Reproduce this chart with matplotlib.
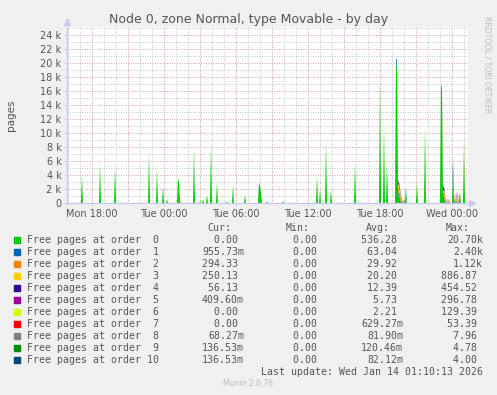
import numpy as np
import pandas as pd
import matplotlib
matplotlib.use("Agg")
import matplotlib.pyplot as plt

# order 0 spikes (time -> pages)
order0_times = [
    "2026-01-12 17:10", "2026-01-12 18:40", "2026-01-12 19:55", "2026-01-12 22:45",
    "2026-01-12 23:25", "2026-01-12 23:55", "2026-01-13 00:15", "2026-01-13 01:10",
    "2026-01-13 01:15", "2026-01-13 01:20", "2026-01-13 02:30", "2026-01-13 03:00",
    "2026-01-13 03:15", "2026-01-13 03:35", "2026-01-13 03:55", "2026-01-13 04:25",
    "2026-01-13 05:15", "2026-01-13 05:45", "2026-01-13 06:45", "2026-01-13 07:55",
    "2026-01-13 08:00", "2026-01-13 08:05", "2026-01-13 08:35", "2026-01-13 09:55",
    "2026-01-13 12:45", "2026-01-13 13:00", "2026-01-13 13:30", "2026-01-13 13:55",
    "2026-01-13 15:55", "2026-01-13 18:00", "2026-01-13 18:20", "2026-01-13 18:35",
    "2026-01-13 19:20", "2026-01-13 19:25", "2026-01-13 20:10", "2026-01-13 21:05",
    "2026-01-13 21:45", "2026-01-13 23:05", "2026-01-13 23:10", "2026-01-14 00:05",
    "2026-01-14 00:40", "2026-01-14 01:00",
]
order0_vals = [
    4000, 5700, 5200, 7200, 5000, 2400, 600, 3600, 3000, 300, 7900, 300,
    600, 1200, 8600, 2900, 300, 2600, 1200, 2900, 2500, 1500, 300, 300,
    4000, 1900, 8800, 1900, 5900, 17900, 10900, 5800, 20700, 19000, 1800, 2900,
    10800, 17000, 16000, 4200, 1500, 8000,
]

# higher orders, only where they show up
mix_times = [
    "2026-01-13 19:25", "2026-01-13 19:30", "2026-01-13 19:35", "2026-01-13 19:40",
    "2026-01-13 19:45", "2026-01-13 19:50", "2026-01-13 20:00", "2026-01-13 20:10",
    "2026-01-13 23:10", "2026-01-13 23:15", "2026-01-13 23:20", "2026-01-13 23:25",
    "2026-01-13 23:35", "2026-01-13 23:45", "2026-01-14 00:05", "2026-01-14 00:15",
    "2026-01-14 00:25", "2026-01-14 00:35", "2026-01-14 01:00", "2026-01-14 01:10",
]
mix0 = [0, 1500, 700, 300, 0, 0, 0, 0, 0, 700, 400, 200, 100, 0, 0, 300, 100, 200, 0, 0]
order1 = [1500, 500, 400, 300, 200, 100, 400, 600, 500, 300, 400, 200, 150, 300, 2400, 300, 200, 150, 0, 0.956]
order2 = [0, 600, 900, 700, 300, 200, 300, 0, 0, 500, 700, 400, 200, 300, 0, 300, 500, 300, 1120, 294.33]
order3 = [0, 300, 500, 400, 300, 150, 100, 0, 0, 400, 300, 250, 150, 100, 0, 200, 300, 200, 400, 250.13]
order4 = [0, 200, 300, 250, 150, 80, 50, 0, 0, 250, 300, 150, 100, 50, 0, 150, 455, 100, 0, 56.13]
order5 = [0, 150, 200, 150, 100, 50, 0, 0, 0, 150, 297, 100, 50, 0, 0, 100, 200, 100, 0, 0.41]
order6 = [0, 50, 129, 60, 30, 0, 0, 0, 0, 40, 60, 30, 0, 0, 0, 40, 80, 40, 0, 0]
order7 = [0, 0, 53, 30, 0, 0, 0, 0, 0, 0, 40, 20, 0, 0, 0, 0, 30, 0, 0, 0]
order8 = [0, 0, 8, 4, 0, 0, 0, 0, 8, 0, 5, 0, 0, 0, 4, 0, 3, 0, 0, 0.07]
order9 = [0, 0, 5, 3, 0, 0, 0, 0, 4, 0, 4, 0, 0, 0, 3, 0, 2, 0, 0, 0.14]
order10 = [0, 0, 4, 2, 0, 0, 0, 0, 4, 0, 3, 0, 0, 0, 2, 0, 2, 0, 0, 0.14]

labels = [f"Free pages at order {i:2d}" for i in range(11)]
colors = ["#00CC00", "#0066B3", "#FF8000", "#FFCC00", "#330099", "#990099",
          "#CCFF00", "#FF0000", "#808080", "#008F00", "#00487D"]
cur = ["0.00 ", "955.73m", "294.33 ", "250.13 ", "56.13 ", "409.60m", "0.00 ",
       "0.00 ", "68.27m", "136.53m", "136.53m"]
mins = ["0.00 "] * 11
avgs = ["536.28 ", "63.04 ", "29.92 ", "20.20 ", "12.39 ", "5.73 ", "2.21 ",
        "629.27m", "81.90m", "120.46m", "82.12m"]
maxs = ["20.70k", "2.40k", "1.12k", "886.87 ", "454.52 ", "296.78 ", "129.39 ",
        "53.39 ", "7.96 ", "4.78 ", "4.00 "]

# build the 5 minute series
idx = pd.date_range("2026-01-12 15:55", "2026-01-14 01:10", freq="5min")
df = pd.DataFrame(0.0, index=idx, columns=range(11))
df.loc[pd.to_datetime(order0_times), 0] = order0_vals
mt = pd.to_datetime(mix_times)
df.loc[mt, 0] = df.loc[mt, 0].values + np.array(mix0, dtype=float)
for k, vals in enumerate([order1, order2, order3, order4, order5, order6,
                          order7, order8, order9, order10], start=1):
    df.loc[mt, k] = vals

bg = "#F0F0F0"
txt = "#555555"
fig = plt.figure(figsize=(4.97, 3.95), dpi=100, facecolor=bg)
W, H = 497, 395
x0, x1, ytop, ybot = 67, 468, 27, 203.3
ax = fig.add_axes([x0 / W, 1 - ybot / H, (x1 - x0) / W, (ybot - ytop) / H])
ax.set_facecolor("white")

t0 = pd.Timestamp("2026-01-12 15:55")
t1 = pd.Timestamp("2026-01-14 01:20")
ymax = 25200
ax.set_xlim(t0, t1)
ax.set_ylim(0, ymax)

# grid
minor_c, major_c = "#C4C4C4", "#D99A9A"
for h in pd.date_range("2026-01-12 16:00", t1, freq="1h"):
    major = h.hour % 3 == 0
    ax.axvline(h, color=major_c if major else minor_c, lw=0.7,
               ls=(0, (1, 1.5)), zorder=0)
for v in range(1000, ymax, 1000):
    major = v % 2000 == 0
    ax.axhline(v, color=major_c if major else minor_c, lw=0.7,
               ls=(0, (1, 1.5)), zorder=0)

ax.stackplot(df.index, *[df[k].values for k in range(11)], colors=colors,
             linewidth=0, zorder=2)

for s in ["top", "right"]:
    ax.spines[s].set_visible(False)
for s in ["left", "bottom"]:
    ax.spines[s].set_color("#C8C8F0")
    ax.spines[s].set_linewidth(1)
ax.plot([0], [1.03], marker="^", color="#C8C8F0", ms=4, transform=ax.transAxes, clip_on=False)
ax.plot([1.01], [0], marker=">", color="#C8C8F0", ms=4, transform=ax.transAxes, clip_on=False)

yt = list(range(0, 24001, 2000))
ax.set_yticks(yt)
ax.set_yticklabels(["0" if v == 0 else f"{v // 1000} k" for v in yt])
xt = pd.date_range("2026-01-12 18:00", "2026-01-14 00:00", freq="6h")
ax.set_xticks(xt)
ax.set_xticklabels([t.strftime("%a %H:%M") for t in xt])
ax.tick_params(axis="both", colors="#C8C8F0", labelcolor=txt, labelsize=7,
               length=2, width=0.6, pad=2)

fig.text(0.5, 1 - 19.5 / H, "Node 0, zone Normal, type Movable - by day",
         ha="center", va="center", fontsize=9, color=txt)
fig.text(11 / W, 1 - 115 / H, "pages", rotation=90, ha="center", va="center",
         fontsize=7.5, color=txt)
fig.text(487 / W, 1 - 16 / H, "RRDTOOL / TOBI OETIKER", rotation=270, ha="center",
         va="top", fontsize=5.5, color="#BBBBBB")

mono = "DejaVu Sans Mono"
fs = 7.1
hy = 228.3
for name, xr in [("Cur:", 231), ("Min:", 310), ("Avg:", 390), ("Max:", 470)]:
    fig.text(xr / W, 1 - hy / H, name, ha="right", va="center", family=mono,
             fontsize=fs, color=txt)
for i in range(11):
    y = 1 - (239.7 + 12 * i) / H
    fig.patches.append(plt.Rectangle((14 / W, y - 3 / H), 6 / W, 6 / H,
                                     transform=fig.transFigure, color=colors[i]))
    fig.text(27 / W, y, labels[i], ha="left", va="center", family=mono,
             fontsize=fs, color=txt)
    for val, xr in [(cur[i], 244), (mins[i], 323), (avgs[i], 403), (maxs[i], 483)]:
        fig.text(xr / W, y, val, ha="right", va="center", family=mono,
                 fontsize=fs, color=txt)
fig.text(483 / W, 1 - 371.7 / H, "Last update: Wed Jan 14 01:10:13 2026",
         ha="right", va="center", family=mono, fontsize=fs, color=txt)
fig.text(248 / W, 1 - 384 / H, "Munin 2.0.76", ha="center", va="center",
         fontsize=5.5, color="#BBBBBB")

fig.savefig("out.png", dpi=100, facecolor=bg)
